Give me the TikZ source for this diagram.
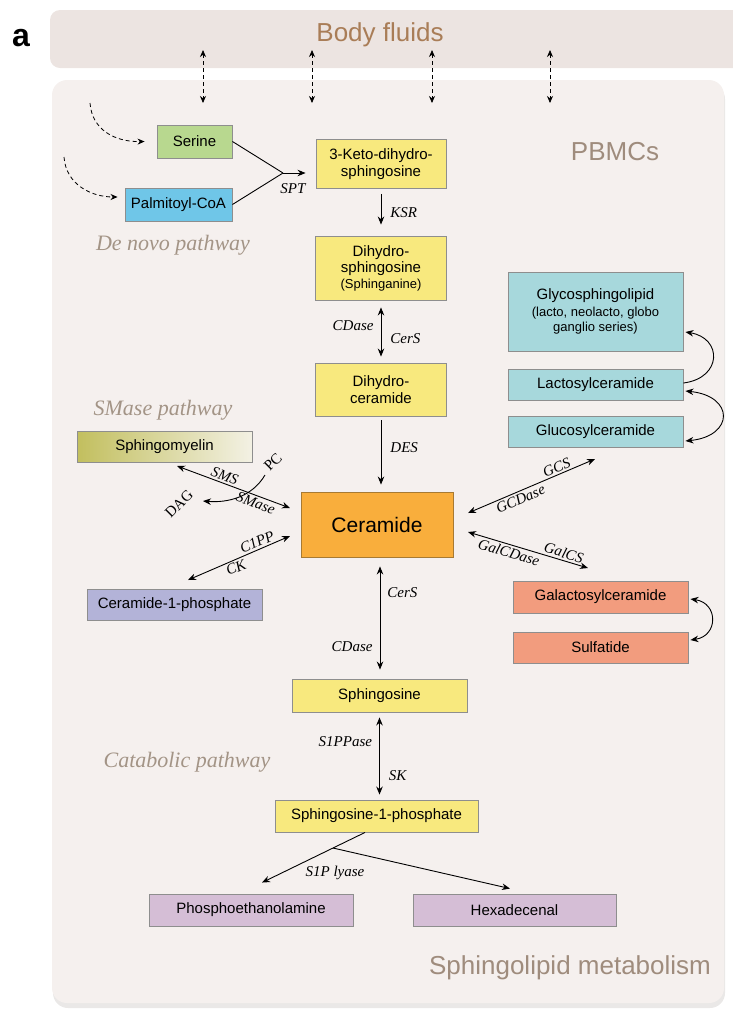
\documentclass[tikz,border=0pt]{standalone}
\usepackage{fontspec}
\setmainfont{Liberation Sans}
\newfontfamily\enzfont{Liberation Serif}
\usetikzlibrary{arrows.meta}

\definecolor{fluidC}{HTML}{ECE4E1}
\definecolor{pbmcC}{HTML}{F5F0EE}
\definecolor{shadowC}{HTML}{EAE8E7}
\definecolor{boxline}{HTML}{8E8E8E}
\definecolor{serineC}{HTML}{B8D88F}
\definecolor{palmC}{HTML}{6FC6E8}
\definecolor{yellowC}{HTML}{F8E97E}
\definecolor{cerC}{HTML}{F9AE3C}
\definecolor{cerline}{HTML}{A87A32}
\definecolor{tealC}{HTML}{A7D8DC}
\definecolor{salmonC}{HTML}{F29C7E}
\definecolor{lavC}{HTML}{B3B3D8}
\definecolor{purpleC}{HTML}{D5BED6}
\definecolor{smL}{HTML}{C2BF5E}
\definecolor{smR}{HTML}{F3F1E4}
\definecolor{fluidT}{HTML}{A97D57}
\definecolor{regionT}{HTML}{9F8C7D}
\definecolor{pathT}{HTML}{A39486}

\tikzset{
  box/.style={draw=boxline, line width=0.9pt, inner sep=0pt, align=center,
    font=\fontsize{15}{16.5}\selectfont},
  enz/.style={font=\enzfont\itshape\fontsize{15}{16}\selectfont, inner sep=2pt},
  pathlbl/.style={font=\enzfont\itshape\fontsize{22}{22}\selectfont, text=pathT},
  regionlbl/.style={font=\fontsize{26}{26}\selectfont, text=regionT},
  arr/.style={-{Stealth[length=8pt,width=6.5pt]}, line width=0.9pt},
  darr/.style={{Stealth[length=8pt,width=6.5pt]}-{Stealth[length=8pt,width=6.5pt]}, line width=0.9pt},
  fluxarr/.style={-{Stealth[length=7pt,width=6pt]}, line width=0.8pt, dash pattern=on 4pt off 3pt},
  dfluxarr/.style={{Stealth[length=7pt,width=6pt]}-{Stealth[length=7pt,width=6pt]}, line width=0.8pt, dash pattern=on 4pt off 3pt}
}

\begin{document}
\begin{tikzpicture}[x=1pt, y=-1pt]
  \useasboundingbox (0,0) rectangle (732,1013);
  % compartments
  \fill[fluidC, rounded corners=10pt] (50,10) rectangle (745,68);
  \fill[shadowC, rounded corners=15pt] (53,84) rectangle (725,1008);
  \fill[pbmcC, rounded corners=15pt] (52,80) rectangle (724,1003);

  \node[font=\bfseries\fontsize{32}{32}\selectfont] (panel) at (21,38) {a};
  \node[font=\fontsize{26}{26}\selectfont, text=fluidT] (fluids) at (380,35) {Body fluids};
  \node[regionlbl] (pbmc) at (615,152) {PBMCs};
  \node[regionlbl] (sphmet) at (570,968) {Sphingolipid metabolism};

  \node[pathlbl] (denovo) at (173,245) {De novo pathway};
  \node[pathlbl] (smpath) at (163,410) {SMase pathway};
  \node[pathlbl] (catab) at (187,762) {Catabolic pathway};

  % exchange with body fluids
  \foreach \x in {203,312,432,550}
    \draw[dfluxarr] (\x,50) -- (\x,103);

  % metabolites
  \node[box, fill=serineC, minimum width=75pt, minimum height=33pt] (serine) at (194.5,141.5) {Serine};
  \node[box, fill=palmC, minimum width=107pt, minimum height=33pt] (palm) at (178.5,204.5) {Palmitoyl-CoA};
  \node[box, fill=yellowC, minimum width=130pt, minimum height=49pt] (keto) at (381,164) {3-Keto-dihydro-\\sphingosine};
  \node[box, fill=yellowC, minimum width=131pt, minimum height=64pt] (dhs) at (381,268)
    {Dihydro-\\sphingosine\\[-1pt]{\fontsize{13}{15}\selectfont(Sphinganine)}};
  \node[box, fill=yellowC, minimum width=131pt, minimum height=53pt] (dhc) at (381,389.5) {Dihydro-\\ceramide};
  \node[box, draw=cerline, fill=cerC, minimum width=152pt, minimum height=65pt,
    font=\fontsize{21}{21}\selectfont] (cer) at (377,524.5) {Ceramide};
  \node[box, fill=tealC, minimum width=175pt, minimum height=79pt] (glyco) at (595.5,311.5)
    {Glycosphingolipid\\[0pt]{\fontsize{13}{16}\selectfont(lacto, neolacto, globo}\\[-1pt]{\fontsize{13}{16}\selectfont ganglio series)}};
  \node[box, fill=tealC, minimum width=175pt, minimum height=31pt] (lacto) at (595.5,384.5) {Lactosylceramide};
  \node[box, fill=tealC, minimum width=175pt, minimum height=31pt] (gluco) at (595.5,431.5) {Glucosylceramide};
  \node[box, left color=smL, right color=smR, minimum width=175pt, minimum height=31pt] (sm) at (164.5,446.5) {Sphingomyelin};
  \node[box, fill=lavC, minimum width=175pt, minimum height=31pt] (c1p) at (174.5,604.5) {Ceramide-1-phosphate};
  \node[box, fill=salmonC, minimum width=175pt, minimum height=32pt] (galc) at (600.5,597) {Galactosylceramide};
  \node[box, fill=salmonC, minimum width=175pt, minimum height=31pt] (sulf) at (600.5,647.5) {Sulfatide};
  \node[box, fill=yellowC, minimum width=175pt, minimum height=33pt] (sph) at (379.5,695.5) {Sphingosine};
  \node[box, fill=yellowC, minimum width=203pt, minimum height=32pt] (s1p) at (376.5,816) {Sphingosine-1-phosphate};
  \node[box, fill=purpleC, minimum width=204pt, minimum height=32pt] (pea) at (251,910) {Phosphoethanolamine};
  \node[box, fill=purpleC, minimum width=203pt, minimum height=32pt] (hex) at (514.5,910) {Hexadecenal};

  % de novo synthesis
  \draw[fluxarr] (90,103) .. controls (92,130) and (115,142) .. ([xshift=-12pt]serine.west);
  \draw[fluxarr] (64,157) .. controls (66,185) and (92,197) .. ([shift={(-7pt,7.5pt)}]palm.west);
  \coordinate (spt) at (283,173);
  \draw[line width=0.9pt] (serine.east) -- (spt);
  \draw[line width=0.9pt] (palm.east) -- (spt);
  \draw[arr, shorten >=10pt] (spt) -- (spt -| keto.west);
  \node[enz] (sptlbl) at (293,189) {SPT};
  \draw[arr, shorten <=5pt, shorten >=11pt] (keto) -- node[enz, right=7pt] {KSR} (dhs);
  \draw[darr, shorten <=7pt, shorten >=6pt] (dhs) --
    node[enz, left=5pt, pos=0.4] {CDase} node[enz, right=7pt, pos=0.62] {CerS} (dhc);
  \draw[arr, shorten <=4pt, shorten >=7pt] (dhc.south) --
    node[enz, right=7pt, pos=0.42] {DES} (dhc.south |- cer.north);

  % catabolic pathway
  \draw[darr, shorten <=9pt, shorten >=9pt] ([xshift=3pt]cer.south) --
    node[enz, right=5pt, pos=0.29] {CerS} node[enz, left=5pt, pos=0.74] {CDase} ([xshift=0.5pt]sph.north);
  \draw[darr, shorten <=5pt, shorten >=5pt] (sph) --
    node[enz, left=5pt, pos=0.34] {S1PPase} node[enz, right=7pt, pos=0.73] {SK} ([xshift=3pt]s1p.north);
  \coordinate (lyase) at (333,848);
  \draw[arr] ([xshift=-11.5pt]s1p.south) -- (lyase) -- ([shift={(11pt,11pt)}]pea.north);
  \draw[arr] (lyase) -- ([shift={(-4.5pt,5pt)}]hex.north);
  \node[enz] (lyaselbl) at (335,873) {S1P lyase};

  % glycosphingolipids
  \coordinate (gcsA) at (468,513);
  \coordinate (gcsB) at (595,459);
  \draw[darr] (gcsA) -- node[enz, sloped, above, pos=0.72] {GCS}
    node[enz, sloped, below, pos=0.39] {GCDase} (gcsB);
  \coordinate (galA) at (468,532);
  \coordinate (galB) at (588,568);
  \draw[darr] (galA) -- node[enz, sloped, above, pos=0.78] {GalCS}
    node[enz, sloped, below, pos=0.36] {GalCDase} (galB);
  \draw[arr] ([yshift=1.5pt]lacto.east) .. controls +(39,-5) and +(37,6) .. ([shift={(2pt,-20.5pt)}]glyco.east);
  \draw[darr] ([shift={(2pt,-6.5pt)}]lacto.east) .. controls +(49,5) and +(49,-5) .. ([shift={(2pt,-9.5pt)}]gluco.east);
  \draw[darr] ([shift={(2pt,-2pt)}]galc.east) .. controls +(28,4) and +(28,-4) .. ([shift={(2pt,7.5pt)}]sulf.east);

  % SMase pathway
  \coordinate (smsA) at (177,466);
  \coordinate (smsB) at (290,508);
  \draw[darr] (smsA) -- node[enz, sloped, above, pos=0.4] {SMS}
    node[enz, sloped, below, pos=0.72] {SMase} (smsB);
  \coordinate (pcA) at (265,475);
  \coordinate (dagB) at (203,501);
  \draw[arr] (pcA) .. controls (252,497) and (228,503) .. (dagB);
  \node[font=\enzfont\fontsize{15}{16}\selectfont, rotate=45] (pc) at (273,462) {PC};
  \node[font=\enzfont\fontsize{15}{16}\selectfont, rotate=45] (dag) at (179,504) {DAG};
  \coordinate (ckA) at (188,580);
  \coordinate (ckB) at (290,536);
  \draw[darr] (ckA) -- node[enz, sloped, above, pos=0.706] {C1PP}
    node[enz, sloped, below, pos=0.44] {CK} (ckB);
\end{tikzpicture}
\end{document}
